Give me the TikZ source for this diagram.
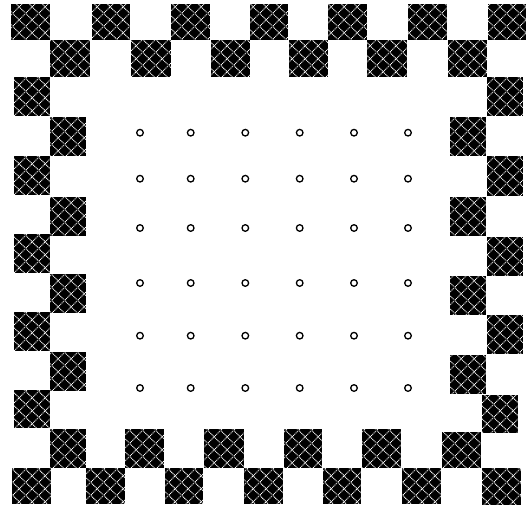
\documentclass[tikz,border=0pt]{standalone}
\usetikzlibrary{patterns.meta}

\tikzdeclarepattern{
  name=lattice,
  type=uncolored,
  bottom left={(0pt,0pt)},
  top right={(13pt,13pt)},
  tile size={(13pt,13pt)},
  code={
    \draw[line width=1pt, dash pattern=on 1pt off 0.8pt] (0pt,0pt) -- (13pt,13pt) (0pt,13pt) -- (13pt,0pt);
  }
}

\begin{document}
\begin{tikzpicture}[x=1pt, y=-1pt,
  tile/.style={fill=black, postaction={pattern=lattice, pattern color=white}},
  pin/.style={draw, line width=1.3pt}]
  \useasboundingbox (0,0) rectangle (532,507);

  % border tiles: top rows
  \foreach \xa/\ya/\xb/\yb in {11/4/50/40, 92/4/130/40, 171/4/210/40, 250/4/288/40, 328/4/367/40, 408/4/447/40, 488/4/526/40,
      50/40/90/77, 131/40/171/77, 211/40/250/77, 289/40/328/77, 367/40/407/77, 448/40/487/77}
    \fill[tile] (\xa,\ya) rectangle (\xb,\yb);
  % left column
  \foreach \xa/\ya/\xb/\yb in {14/77/50/116, 14/156/50/195, 14/234/50/273, 14/312/50/351, 14/390/50/428,
      50/117/86/156, 50/197/86/236, 50/274/86/313, 50/352/86/391}
    \fill[tile] (\xa,\ya) rectangle (\xb,\yb);
  % right column
  \foreach \xa/\ya/\xb/\yb in {487/77/523/116, 487/156/523/196, 487/237/523/276, 487/315/523/354, 482/395/518/433,
      450/117/486/156, 450/197/486/236, 450/276/486/315, 450/355/486/394}
    \fill[tile] (\xa,\ya) rectangle (\xb,\yb);
  % bottom rows
  \foreach \xa/\ya/\xb/\yb in {50/429/86/468, 125/429/164/468, 204/429/244/468, 284/429/322/468, 362/429/401/468, 442/432/481/468,
      12/468/51/504, 86/468/125/504, 165/468/203/504, 244/468/283/504, 323/468/361/504, 402/468/441/504, 482/468/521/505}
    \fill[tile] (\xa,\ya) rectangle (\xb,\yb);

  % grid of holes
  \foreach \x in {140,190.7,245.3,299.7,354,408}
    \foreach \y in {132.7,178.7,228,283,335.7,388}
      \draw[pin] (\x,\y) circle (3.3);
\end{tikzpicture}
\end{document}
